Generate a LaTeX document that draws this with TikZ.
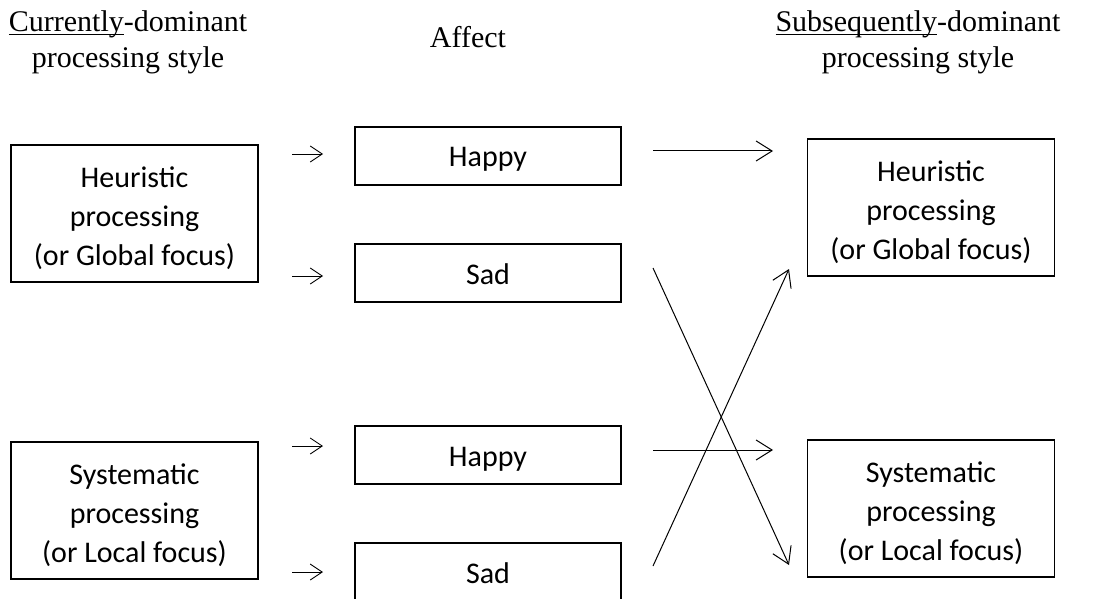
\documentclass[tikz,border=0pt]{standalone}
\usepackage{fontspec}
\setmainfont{Liberation Serif}
\newfontfamily\boxfont{Carlito}
\usetikzlibrary{arrows.meta}
\newcommand\boxstrut{\rule{0pt}{15pt}}
\newcommand\headul[1]{\setbox0\hbox{#1}\rlap{\rule[-1.4pt]{\wd0}{0.6pt}}\box0}
\begin{document}
\begin{tikzpicture}
[x=0.5pt,y=-0.5pt,
procbox/.style={draw,line width=0.6pt,inner sep=0pt,minimum width=123.5pt,minimum height=68.5pt,align=center,font=\boxfont\fontsize{15}{19.5}\selectfont},
affbox/.style={draw,line width=0.6pt,inner sep=0pt,minimum width=133pt,minimum height=29pt,text height=11pt,text depth=0pt,font=\boxfont\fontsize{15}{18}\selectfont},
headnode/.style={align=center,inner sep=0pt,font=\fontsize{15}{18}\selectfont},
arr/.style={-{Straight Barb[length=8pt,width=10pt]},line width=0.5pt},
shortarr/.style={-{Straight Barb[length=6pt,width=8pt]},line width=0.45pt}]
\useasboundingbox (0,0) rectangle (1103,599);
\node (curr) at (128,68) [headnode,anchor=base] {\headul{Currently}-dominant\\processing style};
\node (aff) at (468,48) [headnode,anchor=base] {Affect};
\node (subs) at (918,68) [headnode,anchor=base] {\headul{Subsequently}-dominant\\processing style};

\node (heurL) at (134.5,213.5) [procbox] {\boxstrut Heuristic\\processing\\(or Global focus)};
\node (systL) at (134.5,510.5) [procbox] {\boxstrut Systematic\\processing\\(or Local focus)};
\node (happyA) at (488,156) [affbox] {Happy};
\node (sadA) at (488,273) [affbox] {Sad};
\node (happyB) at (488,455) [affbox] {Happy};
\node (sadB) at (488,572) [affbox] {Sad};
\node (heurR) at (931,207.5) [procbox] {\boxstrut Heuristic\\processing\\(or Global focus)};
\node (systR) at (931,508.5) [procbox] {\boxstrut Systematic\\processing\\(or Local focus)};

% short arrows into the affect boxes
\coordinate (inA1) at (292,154); \coordinate (inA2) at (323,154);
\coordinate (inB1) at (292,276); \coordinate (inB2) at (323,276);
\coordinate (inC1) at (292,446); \coordinate (inC2) at (323,446);
\coordinate (inD1) at (292,572); \coordinate (inD2) at (323,572);
\draw[shortarr] (inA1) -- (inA2);
\draw[shortarr] (inB1) -- (inB2);
\draw[shortarr] (inC1) -- (inC2);
\draw[shortarr] (inD1) -- (inD2);

% arrows to the subsequent style
\coordinate (outA) at (653,151); \coordinate (toHeur) at (773,151);
\coordinate (outB) at (653,268); \coordinate (toSystX) at (789,565);
\coordinate (outC) at (653,450); \coordinate (toSyst) at (773,450);
\coordinate (outD) at (653,566); \coordinate (toHeurX) at (789,269);
\draw[arr] (outA) -- (toHeur);
\draw[arr] (outB) -- (toSystX);
\draw[arr] (outC) -- (toSyst);
\draw[arr] (outD) -- (toHeurX);
\end{tikzpicture}
\end{document}
